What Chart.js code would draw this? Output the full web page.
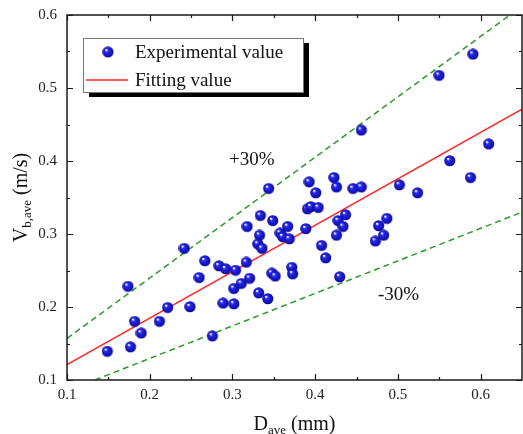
<!DOCTYPE html>
<html>
<head>
<meta charset="utf-8">
<script src="https://cdn.jsdelivr.net/npm/chart.js@4.4.1/dist/chart.umd.min.js"></script>
<style>
  html, body { margin: 0; padding: 0; background: #fff; }
  #wrap { width: 523px; height: 434px; }
</style>
</head>
<body>
<div id="wrap"><canvas id="velChart" width="523" height="434"></canvas></div>
<script>
// Measured average bubble diameter (mm) and average velocity (m/s)
const diameters = [
  0.149, 0.177, 0.190, 0.182, 0.212, 0.222, 0.174, 0.249, 0.276, 0.242,
  0.267, 0.260, 0.284, 0.292, 0.304, 0.302, 0.311, 0.321, 0.289, 0.302,
  0.318, 0.317, 0.334, 0.333, 0.331, 0.332, 0.456, 0.344, 0.349, 0.336,
  0.343, 0.348, 0.352, 0.358, 0.361, 0.367, 0.369, 0.372, 0.373, 0.389,
  0.391, 0.395, 0.404, 0.393, 0.401, 0.408, 0.413, 0.423, 0.426, 0.437,
  0.428, 0.434, 0.426, 0.430, 0.446, 0.456, 0.477, 0.487, 0.483, 0.473,
  0.502, 0.524, 0.591, 0.550, 0.610, 0.563, 0.588
];
const velocities = [
  0.139, 0.145, 0.164, 0.180, 0.180, 0.199, 0.228, 0.200, 0.160, 0.280,
  0.263, 0.240, 0.256, 0.252, 0.250, 0.225, 0.232, 0.239, 0.205, 0.204,
  0.310, 0.261, 0.325, 0.298, 0.286, 0.219, 0.442, 0.362, 0.318, 0.280,
  0.211, 0.246, 0.242, 0.301, 0.296, 0.310, 0.293, 0.254, 0.245, 0.307,
  0.334, 0.337, 0.336, 0.371, 0.356, 0.284, 0.267, 0.377, 0.364, 0.326,
  0.318, 0.310, 0.298, 0.241, 0.362, 0.364, 0.311, 0.321, 0.298, 0.290,
  0.367, 0.356, 0.546, 0.517, 0.423, 0.400, 0.377
];

// Fitted line and the +/-30% band, given at the two ends of the x range
const fitX = [0.1, 0.65];
const fitY = [0.121, 0.471];
const upperY = [0.157, 0.612];
const lowerY = [0.085, 0.330];

const xTicks = [0.1, 0.2, 0.3, 0.4, 0.5, 0.6];
const yTicks = [0.1, 0.2, 0.3, 0.4, 0.5, 0.6];
const xMinor = [0.15, 0.25, 0.35, 0.45, 0.55];
const yMinor = [0.15, 0.25, 0.35, 0.45, 0.55];

const serif = '"Liberation Serif", "Times New Roman", serif';

// shaded blue ball used as the point marker
function makeBall(r) {
  const c = document.createElement('canvas');
  c.width = c.height = Math.ceil(2 * r);
  const g = c.getContext('2d');
  const grad = g.createRadialGradient(r * 0.7, r * 0.65, r * 0.1, r, r, r);
  grad.addColorStop(0, '#eef0ff');
  grad.addColorStop(0.22, '#2a2ae8');
  grad.addColorStop(0.7, '#1414c4');
  grad.addColorStop(1, '#0a0a88');
  g.fillStyle = grad;
  g.beginPath();
  g.arc(r, r, r - 0.2, 0, Math.PI * 2);
  g.fill();
  return c;
}
const ball = makeBall(5.75);

function pts(xs, ys) {
  return xs.map((x, i) => ({ x: x, y: ys[i] }));
}

// text with a subscript part, laid out from x along the baseline
function subText(ctx, parts, x, y) {
  parts.forEach(p => {
    ctx.font = p.size + 'px ' + serif;
    ctx.fillText(p.t, x, y + (p.dy || 0));
    x += ctx.measureText(p.t).width;
  });
}
function subWidth(ctx, parts) {
  let w = 0;
  parts.forEach(p => {
    ctx.font = p.size + 'px ' + serif;
    w += ctx.measureText(p.t).width;
  });
  return w;
}

// keep the plot box at fixed size: no extra room for overhanging labels
function fixScale(s, w, h) {
  if (w) s.width = w;
  if (h) s.height = h;
  s.paddingLeft = s.paddingRight = s.paddingTop = s.paddingBottom = 0;
}

const framePlugin = {
  id: 'frame',
  afterDraw(chart) {
    const { ctx, chartArea: a, scales: { x, y } } = chart;
    ctx.save();
    ctx.strokeStyle = '#1a1a1a';
    ctx.lineWidth = 1.5;
    ctx.strokeRect(a.left, a.top, a.right - a.left, a.bottom - a.top);

    // inward tick marks on all four sides
    ctx.lineWidth = 1.2;
    ctx.beginPath();
    const xt = (v, len) => {
      const px = Math.round(x.getPixelForValue(v)) + 0.5;
      ctx.moveTo(px, a.bottom); ctx.lineTo(px, a.bottom - len);
      ctx.moveTo(px, a.top); ctx.lineTo(px, a.top + len);
    };
    const yt = (v, len) => {
      const py = Math.round(y.getPixelForValue(v)) + 0.5;
      ctx.moveTo(a.left, py); ctx.lineTo(a.left + len, py);
      ctx.moveTo(a.right, py); ctx.lineTo(a.right - len, py);
    };
    xTicks.forEach(v => xt(v, 6));
    xMinor.forEach(v => xt(v, 3));
    yTicks.forEach(v => yt(v, 6));
    yMinor.forEach(v => yt(v, 3));
    ctx.stroke();

    // band labels
    ctx.fillStyle = '#111';
    ctx.textBaseline = 'alphabetic';
    ctx.font = '19px ' + serif;
    ctx.fillText('+30%', 229, 165);
    ctx.fillText('-30%', 378, 300);

    // axis titles
    const xTitle = [{ t: 'D', size: 20 }, { t: 'ave', size: 13, dy: 4 }, { t: ' (mm)', size: 20 }];
    const xw = subWidth(ctx, xTitle);
    subText(ctx, xTitle, (a.left + a.right) / 2 - xw / 2, 430);

    const yTitle = [{ t: 'V', size: 20 }, { t: 'b,ave', size: 13, dy: 4 }, { t: ' (m/s)', size: 20 }];
    const yw = subWidth(ctx, yTitle);
    ctx.save();
    ctx.translate(27, (a.top + a.bottom) / 2);
    ctx.rotate(-Math.PI / 2);
    subText(ctx, yTitle, -yw / 2, 0);
    ctx.restore();

    // legend box with a drop shadow
    const bx = 83, by = 38, bw = 220, bh = 54;
    ctx.fillStyle = '#000';
    ctx.fillRect(bx + 6, by + 5, bw, bh);
    ctx.fillStyle = '#fff';
    ctx.fillRect(bx, by, bw, bh);
    ctx.strokeStyle = '#777';
    ctx.lineWidth = 1;
    ctx.strokeRect(bx + 0.5, by + 0.5, bw, bh);

    const ds = chart.data.datasets;
    ctx.drawImage(ball, 108 - 5.75, 52 - 5.75);
    ctx.strokeStyle = ds[1].borderColor;
    ctx.lineWidth = 1.5;
    ctx.beginPath();
    ctx.moveTo(86, 80); ctx.lineTo(128, 80);
    ctx.stroke();
    ctx.fillStyle = '#111';
    ctx.font = '19px ' + serif;
    ctx.fillText(ds[0].label, 135, 58);
    ctx.fillText(ds[1].label, 135, 86);
    ctx.restore();
  }
};

const tickFont = { family: serif, size: 15 };

new Chart(document.getElementById('velChart'), {
  type: 'scatter',
  data: {
    datasets: [
      {
        label: 'Experimental value',
        data: pts(diameters, velocities),
        pointStyle: ball,
        pointRadius: 5.75
      },
      {
        label: 'Fitting value',
        data: pts(fitX, fitY),
        showLine: true,
        borderColor: '#ff2626',
        borderWidth: 1.5,
        pointRadius: 0,
        clip: 0
      },
      {
        label: '+30%',
        data: pts(fitX, upperY),
        showLine: true,
        borderColor: '#2a9a2a',
        borderDash: [6, 4],
        borderWidth: 1.5,
        pointRadius: 0,
        clip: 0
      },
      {
        label: '-30%',
        data: pts(fitX, lowerY),
        showLine: true,
        borderColor: '#2a9a2a',
        borderDash: [6, 4],
        borderWidth: 1.5,
        pointRadius: 0,
        clip: 0
      }
    ]
  },
  options: {
    responsive: false,
    animation: false,
    layout: { autoPadding: false, padding: { top: 15, right: 1, left: 0, bottom: 0 } },
    plugins: {
      legend: { display: false },
      tooltip: { enabled: false }
    },
    scales: {
      x: {
        type: 'linear',
        min: 0.1,
        max: 0.65,
        afterBuildTicks: s => { s.ticks = xTicks.map(v => ({ value: v })); },
        afterFit: s => fixScale(s, 0, 54),
        grid: { display: false, drawTicks: false, tickLength: 0 },
        border: { display: false },
        ticks: {
          padding: 6,
          color: '#222',
          font: tickFont,
          maxRotation: 0,
          callback: v => v.toFixed(1)
        }
      },
      y: {
        type: 'linear',
        min: 0.1,
        max: 0.6,
        afterBuildTicks: s => { s.ticks = yTicks.map(v => ({ value: v })); },
        afterFit: s => fixScale(s, 67, 0),
        grid: { display: false, drawTicks: false, tickLength: 0 },
        border: { display: false },
        ticks: {
          padding: 10,
          color: '#222',
          font: tickFont,
          callback: v => v.toFixed(1)
        }
      }
    }
  },
  plugins: [framePlugin]
});
</script>
</body>
</html>
